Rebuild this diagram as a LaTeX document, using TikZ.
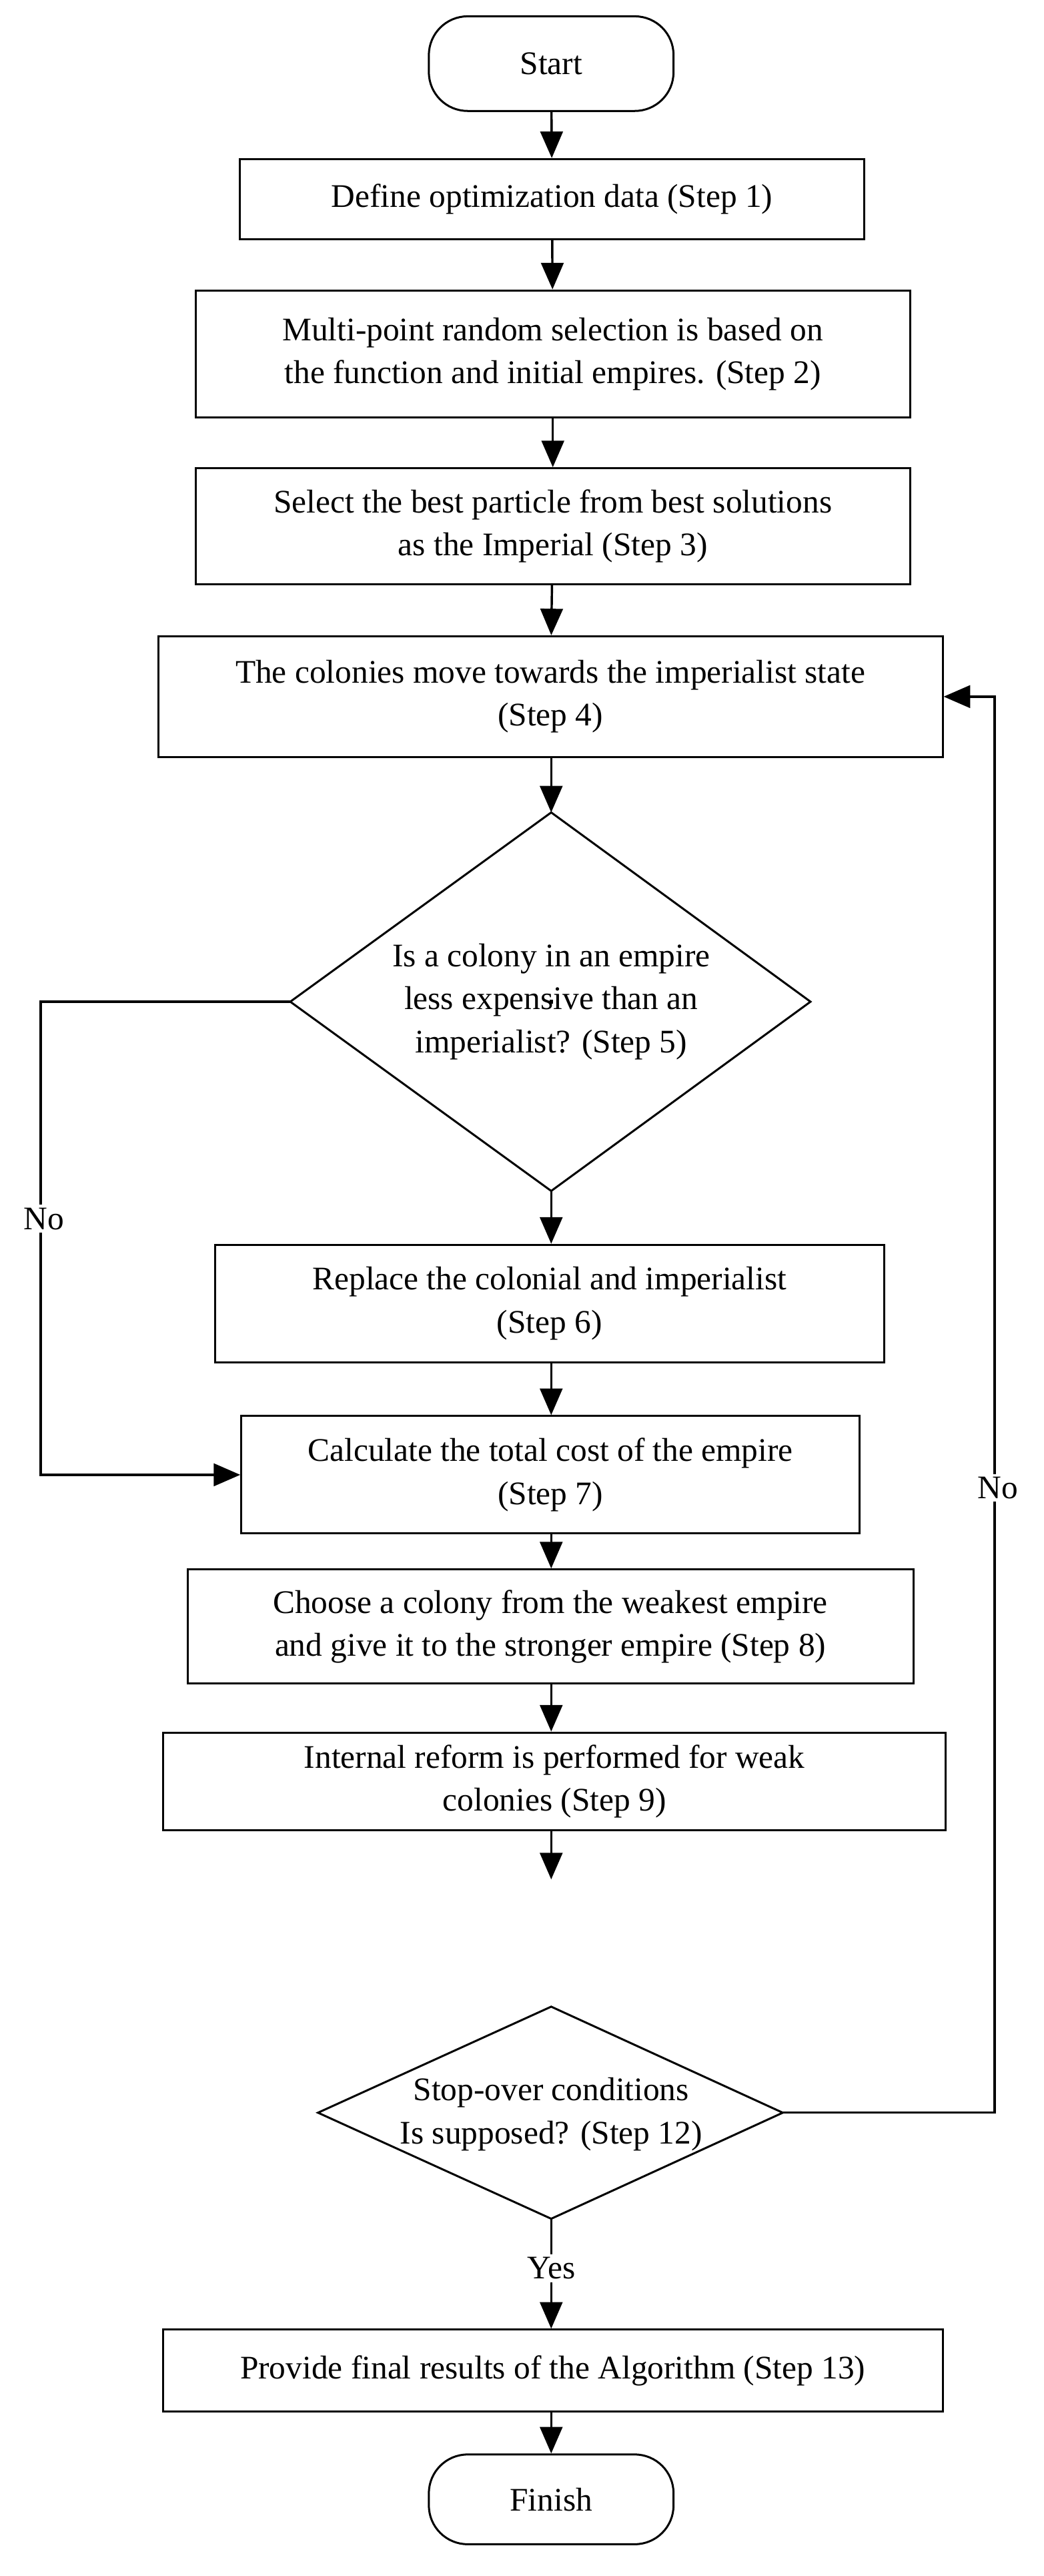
\documentclass[tikz,border=0pt]{standalone}
\usepackage{fontspec}
\setmainfont{Liberation Serif}
\usetikzlibrary{shapes.geometric,arrows.meta}
\begin{document}
\begin{tikzpicture}[x=0.04cm,y=-0.04cm,
  every node/.style={font=\fontsize{23}{30}\selectfont, align=center, inner sep=0pt},
  box/.style={draw, line width=1.4pt},
  term/.style={draw, line width=1.4pt, rounded corners=0.95cm},
  dia/.style={draw, line width=1.4pt, diamond, aspect=1.4},
  arr/.style={line width=1.6pt, -{Triangle[length=0.65cm,width=0.55cm]}},
  ln/.style={line width=1.6pt}]
\useasboundingbox (0,0) rectangle (640,1579);
\node[term, minimum width=6cm, minimum height=2.32cm] (start) at (338,39) {Start};
\node[box, minimum width=15.32cm, minimum height=1.96cm] (s1) at (338.5,122) {Define optimization data (Step 1)};
\node[box, minimum width=17.52cm, minimum height=3.12cm] (s2) at (339,217) {Multi-point random selection is based on\\the function and initial empires. (Step 2)};
\node[box, minimum width=17.52cm, minimum height=2.84cm] (s3) at (339,322.5) {Select the best particle from best solutions\\as the Imperial (Step 3)};
\node[box, minimum width=19.24cm, minimum height=2.96cm] (s4) at (337.5,427) {The colonies move towards the imperialist state\\(Step 4)};
\node[draw, line width=1.4pt] (s5) at (338,614) {};
\coordinate (d5t) at (338,498); \coordinate (d5b) at (338,730);
\coordinate (d5l) at (178,614); \coordinate (d5r) at (497,614);
\draw[line width=1.4pt] (d5t) -- (d5r) -- (d5b) -- (d5l) -- cycle;
\node (t5) at (338,614) {Is a colony in an empire\\less expensive than an\\imperialist? (Step 5)};
\node[box, minimum width=16.4cm, minimum height=2.88cm] (s6) at (337,799) {Replace the colonial and imperialist\\(Step 6)};
\node[box, minimum width=15.16cm, minimum height=2.88cm] (s7) at (337.5,904) {Calculate the total cost of the empire\\(Step 7)};
\node[box, minimum width=17.8cm, minimum height=2.8cm] (s8) at (337.5,997) {Choose a colony from the weakest empire\\and give it to the stronger empire (Step 8)};
\node[box, minimum width=19.2cm, minimum height=2.4cm] (s9) at (340,1092) {Internal reform is performed for weak\\colonies (Step 9)};
\coordinate (e9) at (338,1152);
\coordinate (d12t) at (338,1230); \coordinate (d12b) at (338,1360);
\coordinate (d12l) at (195,1295); \coordinate (d12r) at (480,1295);
\draw[line width=1.4pt] (d12t) -- (d12r) -- (d12b) -- (d12l) -- cycle;
\node (t12) at (338,1296) {Stop-over conditions\\Is supposed? (Step 12)};
\node[box, minimum width=19.12cm, minimum height=2cm] (s13) at (339,1453) {Provide final results of the Algorithm (Step 13)};
\node[term, minimum width=6cm, minimum height=2.2cm] (fin) at (338,1532) {Finish};
\draw[arr] (start) -- (s1);
\draw[arr] (s1) -- (s2);
\draw[arr] (s2) -- (s3);
\draw[arr] (s3) -- (s4);
\draw[arr] (s4.south -| d5t) -- (d5t);
\draw[arr] (d5b) -- (s6.north -| d5b);
\draw[arr] (s6.south -| d5b) -- (s7.north -| d5b);
\draw[arr] (s7.south -| d5b) -- (s8.north -| d5b);
\draw[arr] (s8.south -| d5b) -- (s9.north -| d5b);
\draw[arr] (s9.south -| d5b) -- (e9);
\draw[arr] (d12b) -- node[pos=0.45, fill=white, inner sep=2pt] {Yes} (s13.north -| d12b);
\draw[arr] (s13.south -| d12b) -- (fin);
\draw[arr] (d5l) -- (25,614) -- (25,904) -- (s7.west);
\node[fill=white, inner sep=2pt] (no1) at (27,747) {No};
\draw[arr] (d12r) -- (610,1295) -- (610,427) -- (s4.east);
\node[fill=white, inner sep=2pt] (no2) at (612,912) {No};
\end{tikzpicture}
\end{document}
